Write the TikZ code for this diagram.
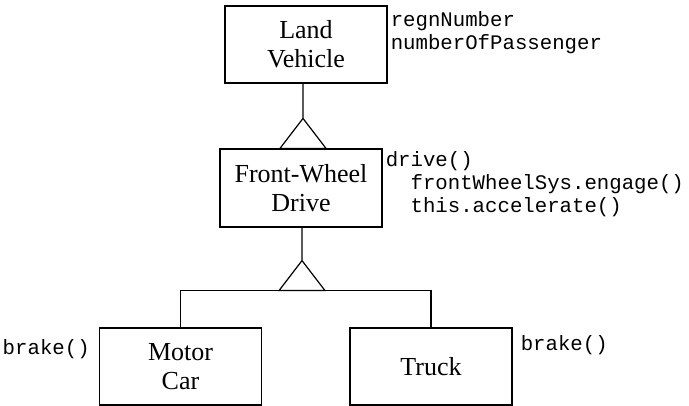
\documentclass[tikz,border=0pt]{standalone}
\usepackage{fontspec}
\setmainfont{Liberation Serif}
\setmonofont{Liberation Mono}
\usetikzlibrary{calc,positioning}
\tikzset{
    block/.style = {draw, rectangle, line width=1.2pt,
        minimum height=77pt,
        minimum width=162pt, align=center,
        font=\fontsize{26}{29}\selectfont},
    member/.style = {inner sep=0pt, align=left,
        font=\ttfamily\fontsize{20.7}{23}\selectfont},
    link/.style = {draw, line width=1.2pt}
}
\def\gentri{%
    +(0,0) -- +(-23,-30) -- +(23,-30) -- cycle
}
\begin{document}
\begin{tikzpicture}[x=1pt, y=1pt]
        \useasboundingbox (0,0) rectangle (689,-406);
        \node [block] (land) at (306,-44.5) {Land\\Vehicle};
        \node [block, minimum height=78pt] (fwd) at (301,-188) {Front-Wheel\\Drive};
        \node [block] (car) at (180.5,-366.5) {Motor\\Car};
        \node [block] (truck) at (431,-366.5) {Truck};
        \coordinate (gen1) at ($(fwd.north)+(2,30)$);
        \coordinate (gen2) at ($(fwd.south)+(1,-33)$);
        \coordinate (bus) at ($(gen2)+(0,-30)$);
        \draw [link] (land.south -| gen1) -- (gen1) \gentri;
        \draw [link] (fwd.south -| gen2) -- (gen2) \gentri;
        \draw [link] (car.north) |- (bus) -| (truck.north);
        \node [member, anchor=north west] (landattr) at ([xshift=3pt, yshift=-6pt]land.north east) {regnNumber\\numberOfPassenger};
        \node [member, anchor=north west] (fwdops) at ([xshift=3pt, yshift=-3pt]fwd.north east) {drive()\\\phantom{xx}frontWheelSys.engage()\\\phantom{xx}this.accelerate()};
        \node [member, anchor=base east] (carops) at ([xshift=-9pt, yshift=-27pt]car.north west) {brake()};
        \node [member, anchor=base west] (truckops) at ([xshift=8pt, yshift=-23pt]truck.north east) {brake()};
    \end{tikzpicture}
\end{document}
